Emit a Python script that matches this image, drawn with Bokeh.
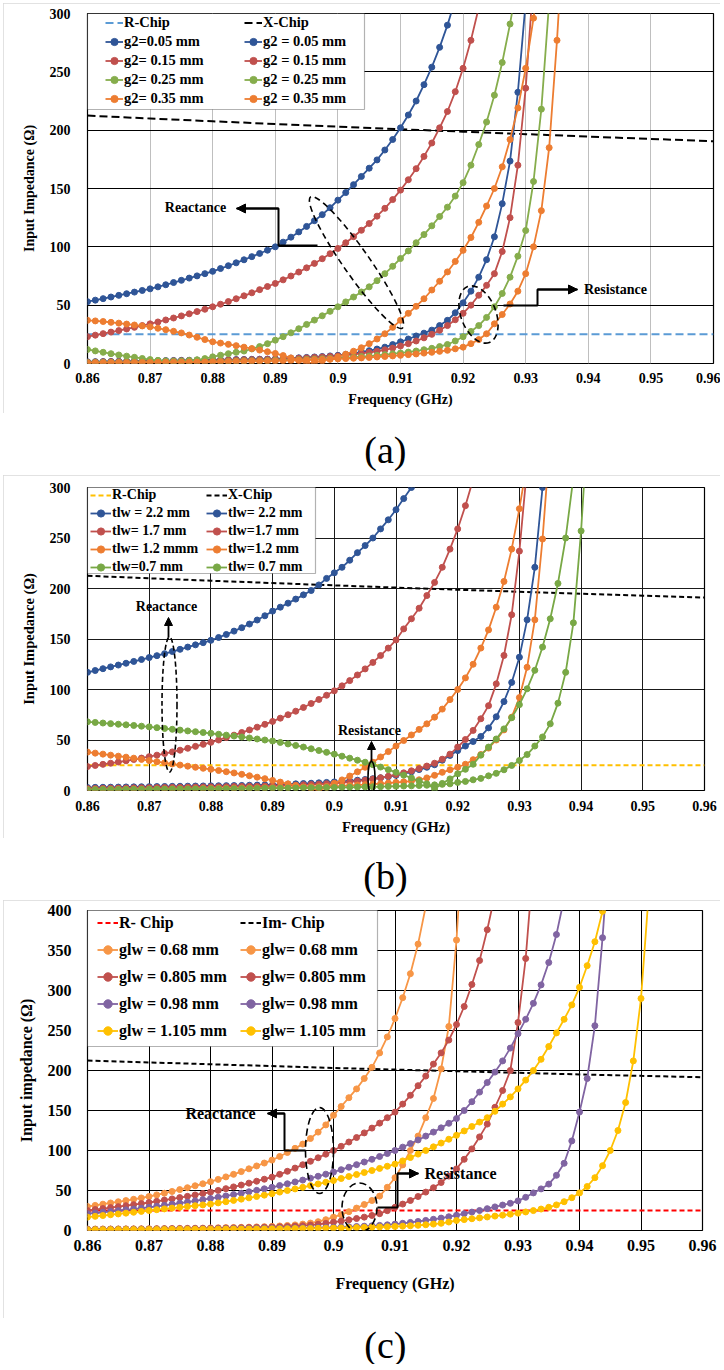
from bokeh.plotting import figure
from bokeh.layouts import column
from bokeh.models import (FixedTicker, SingleIntervalTicker, CustomJSTickFormatter, Legend,
                          LegendItem, BoxAnnotation, Label, Arrow, NormalHead, Range1d)
from bokeh.embed import file_html
from bokeh.resources import INLINE

FONT = "Liberation Serif"

# ---------------- data ----------------
STEP_GHZ = 0.00125
FREQ = [round(0.86 + STEP_GHZ * k, 5) for k in range(81)]
CHIP_F = [0.86, 0.87, 0.88, 0.89, 0.90, 0.91, 0.92, 0.93, 0.94, 0.95, 0.96]
X_TICKS = [0.86, 0.87, 0.88, 0.89, 0.90, 0.91, 0.92, 0.93, 0.94, 0.95, 0.96]

# ---- panel (a): g2 ----
A_R_CHIP = [25, 25, 25, 25, 25, 25, 25, 25, 25, 25, 25]
A_X_CHIP = [212.5, 210.0, 207.6, 205.3, 203.0, 200.8, 198.7, 196.6, 194.5, 192.5, 190.5]
A_R_LABELS = ["g2=0.05 mm", "g2= 0.15 mm", "g2= 0.25 mm", "g2= 0.35 mm"]
A_X_LABELS = ["g2 = 0.05 mm", "g2 = 0.15 mm", "g2 = 0.25 mm", "g2 = 0.35 mm"]
A_COLORS = ["#2F5597", "#C0504D", "#86AD4C", "#ED7D31"]
A_R_005 = [1.5, 1.6, 1.7, 1.8, 1.9, 2.0, 2.1, 2.2, 2.3,
           2.4, 2.5, 2.6, 2.7, 2.8, 2.9, 3.0, 3.1,
           3.2, 3.3, 3.4, 3.5, 3.6, 3.7, 3.8, 4.0,
           4.3, 4.6, 4.9, 5.2, 5.6, 6.0, 6.5, 7.0,
           7.8, 8.7, 9.8, 11, 12.4, 14, 16.2, 18.6,
           21, 23.6, 26, 28.6, 32.5, 37, 43.5, 52,
           62, 74, 89, 108.6, 137, 173.5, 232.5, 310]
A_X_005 = [53, 54.3, 55.6, 57, 58.4, 59.8, 61.2, 62.6, 64,
           65.7, 67.5, 69.4, 71.3, 73.2, 75.1, 77, 79,
           81.4, 83.8, 86.3, 88.9, 91.6, 94.3, 97.1, 100,
           104, 108.3, 112.8, 117.5, 122.4, 127.6, 133.5, 140,
           146.5, 153.3, 160.3, 167.4, 174.5, 183, 192, 202,
           213, 225, 239, 254, 271, 290, 312]
A_R_015 = [1.2, 1.3, 1.4, 1.5, 1.6, 1.7, 1.8, 1.9, 2.0,
           2.1, 2.2, 2.3, 2.4, 2.5, 2.6, 2.7, 2.8,
           2.9, 3.0, 3.1, 3.2, 3.3, 3.4, 3.5, 3.7,
           3.9, 4.2, 4.5, 4.8, 5.2, 5.6, 6.0, 6.5,
           7.1, 7.8, 8.6, 9.5, 10.5, 11.7, 13.2, 15,
           17, 19.3, 22, 25, 28.5, 32.5, 37.5, 43,
           50, 58.5, 67, 77, 96, 125, 170, 236, 330]
A_X_015 = [23, 24.3, 25.6, 26.9, 28.2, 29.6, 31, 32.5, 34,
           35.6, 37.3, 39, 40.8, 42.6, 44.5, 46.5, 48.6,
           50.8, 53.1, 55.5, 58, 60.6, 63.3, 66, 68.6,
           71.7, 75, 78.4, 82, 85.8, 89.8, 94.1, 98.6,
           103.5, 108.7, 114.2, 120, 126.3, 133, 140.5, 148.6,
           157.5, 167, 177.5, 189, 202, 216, 233, 253, 277, 305]
A_R_025 = [0.8, 0.85, 0.9, 0.95, 1.0, 1.05, 1.1, 1.15, 1.2,
           1.25, 1.3, 1.35, 1.4, 1.5, 1.6, 1.7, 1.8,
           1.9, 2.0, 2.1, 2.2, 2.3, 2.4, 2.5, 2.7,
           2.9, 3.1, 3.3, 3.5, 3.7, 4.0, 4.3, 4.6,
           5.0, 5.4, 5.9, 6.4, 7.0, 7.6, 8.3, 9.0,
           9.8, 10.7, 11.8, 13, 14.5, 16.3, 19.3, 23,
           27.5, 32.5, 39.5, 48.6, 60, 74, 92, 114, 156, 218, 310]
A_X_025 = [12, 10.8, 9.6, 8.4, 7.3, 6.3, 5.3, 4.3, 3.4,
           2.7, 2.2, 2.0, 2.1, 2.5, 3.2, 4.2, 5.7,
           7.1, 8.4, 9.6, 10.7, 12.5, 14.5, 17, 20,
           23, 26.3, 29.8, 33.5, 37.2, 40.9, 44.7, 48.6,
           52.8, 57, 61.3, 65.7, 71, 77, 83.3, 90,
           96.5, 103.5, 110.5, 118, 126, 134, 143.5, 155,
           170, 187.7, 207, 230, 258, 291, 330]
A_R_035 = [0.5, 0.55, 0.6, 0.65, 0.7, 0.75, 0.8, 0.85, 0.9,
           0.95, 1.0, 1.05, 1.1, 1.15, 1.2, 1.3, 1.4,
           1.5, 1.6, 1.7, 1.8, 1.9, 2.0, 2.1, 2.2,
           2.4, 2.6, 2.8, 3.0, 3.2, 3.4, 3.6, 3.9,
           4.2, 4.5, 4.8, 5.2, 5.6, 6.0, 6.5, 7.0,
           7.6, 8.2, 8.9, 9.6, 10.4, 11.3, 12.6, 14,
           17, 20.5, 25.5, 34, 42, 51, 62, 77, 100, 131, 185, 277, 390]
A_X_035 = [37, 36.5, 36, 35.3, 34.6, 33.8, 33, 32.2, 31.4,
           30.2, 29, 27.6, 26.2, 24.4, 22.5, 20.5, 18.6,
           17.5, 16.4, 15.3, 14, 12.8, 11.5, 10.1, 8.6,
           6.8, 4.8, 2.6, 0.6, 0.8, 2.2, 3.8, 5.7,
           8, 10.5, 13.5, 17, 21, 25.5, 31, 37,
           43, 49, 55.5, 63, 70.5, 78.5, 87.5, 97,
           108, 121, 135, 150, 168.6, 192, 219, 253, 296, 345]

# ---- panel (b): tlw ----
B_R_CHIP = [25, 25, 25, 25, 25, 25, 25, 25, 25, 25, 25]
B_X_CHIP = [212.6, 210.1, 207.7, 205.4, 203.1, 200.9, 198.8, 196.8, 194.8, 192.9, 191.0]
B_R_LABELS = ["tlw = 2.2 mm", "tlw= 1.7 mm", "tlw= 1.2 mmm", "tlw=0.7 mm"]
B_X_LABELS = ["tlw= 2.2 mm", "tlw=1.7 mm", "tlw=1.2 mm", "tlw= 0.7 mm"]
B_COLORS = ["#2F5597", "#C0504D", "#ED7D31", "#78A845"]
B_R_22 = [3, 3.1, 3.2, 3.3, 3.4, 3.5, 3.6, 3.7, 3.8,
          3.9, 4.0, 4.1, 4.2, 4.3, 4.4, 4.5, 4.6,
          4.7, 4.8, 4.9, 5.0, 5.2, 5.4, 5.6, 5.8,
          6.0, 6.3, 6.6, 6.9, 7.2, 7.6, 8.0, 8.5,
          9.0, 9.6, 10.2, 10.9, 11.7, 12.6, 13.7, 15,
          16.6, 18.5, 20.7, 23, 25.5, 30, 34.7, 39.5,
          44, 48.5, 53.5, 62, 73, 88, 107, 132, 169, 221, 300, 400]
B_X_22 = [117, 118.8, 120.6, 122.4, 124.2, 126, 127.8, 129.7, 131.6,
          133.5, 135.5, 137.6, 139.8, 142, 144.2, 146.4, 148.7,
          151.5, 154.5, 157.8, 161.2, 164.8, 168.8, 173, 177.6,
          181.5, 185.5, 189.5, 193.7, 198, 203.5, 210, 215.5,
          221, 228, 235.5, 242.5, 250, 259, 268, 278, 289, 300, 312]
B_R_17 = [2, 2.1, 2.2, 2.3, 2.4, 2.5, 2.6, 2.7, 2.8,
          2.9, 3.0, 3.1, 3.2, 3.3, 3.4, 3.5, 3.6,
          3.7, 3.8, 3.9, 4.0, 4.1, 4.2, 4.4, 4.6,
          4.8, 5.0, 5.3, 5.6, 5.9, 6.3, 6.7, 7.2,
          7.8, 8.5, 9.3, 10.2, 11.3, 12.6, 14.1, 15.8,
          17.5, 19.5, 21.8, 24.2, 27, 31, 36, 43,
          50.5, 59.5, 71, 84, 105.6, 133.7, 174, 237, 320]
B_X_17 = [23.7, 24.8, 25.9, 27, 28.2, 29.4, 30.7, 32.1, 33.5,
          35, 36.6, 38.2, 39.9, 41.8, 43.7, 45.7, 47.7,
          50, 52.4, 54.8, 57.4, 60, 62.7, 65.5, 68.4,
          71.6, 75, 78.5, 82.2, 86.1, 90.1, 94.3, 98.7,
          103.6, 108.8, 114.4, 120.4, 126.8, 133.6, 141, 149,
          160, 170, 180.5, 193, 206, 221, 239, 259, 282, 308]
B_R_12 = [1, 1.05, 1.1, 1.15, 1.2, 1.25, 1.3, 1.35, 1.4,
          1.45, 1.5, 1.55, 1.6, 1.7, 1.8, 1.9, 2.0,
          2.1, 2.2, 2.3, 2.4, 2.5, 2.6, 2.7, 2.8,
          2.9, 3.0, 3.2, 3.4, 3.6, 3.8, 4.0, 4.3,
          4.6, 5.0, 5.4, 5.8, 6.3, 6.8, 7.4, 8.0,
          8.6, 9.3, 10.6, 12.5, 15, 18, 20.5, 23,
          26, 30.5, 35.6, 42, 50, 60, 72.6, 92, 122, 169, 249, 350]
B_X_12 = [38, 37, 36, 35, 34, 33, 32, 30.8, 29.6,
          28.5, 27.4, 26.3, 25.2, 24.1, 23, 22, 21,
          19.8, 18.6, 17.4, 16, 14.6, 13.2, 11.7, 10,
          8.3, 6.6, 4.9, 3.3, 1.8, 0.4, 3, 7,
          10.5, 14.3, 18.5, 23, 28, 33.2, 38.5, 44,
          49.5, 55, 60.5, 66, 72.6, 80.6, 90, 100,
          111.5, 125, 141, 159, 181.5, 207, 239, 279, 325]
B_R_07 = [0.8, 0.85, 0.9, 0.95, 1.0, 1.05, 1.1, 1.15, 1.2,
          1.25, 1.3, 1.35, 1.4, 1.45, 1.5, 1.55, 1.6,
          1.65, 1.7, 1.75, 1.8, 1.9, 2.0, 2.1, 2.2,
          2.3, 2.4, 2.5, 2.6, 2.7, 2.8, 2.9, 3.0,
          3.1, 3.2, 3.35, 3.5, 3.65, 3.8, 4.0, 4.2,
          4.4, 4.6, 4.9, 5.2, 5.6, 6.1, 6.6, 8,
          9, 10.6, 12, 14.5, 17, 20.5, 24.8, 29.7, 35.6, 44, 53, 66, 86.5, 117, 166, 257, 380]
B_X_07 = [68, 67.4, 66.8, 66.2, 65.6, 65, 64.4, 63.7, 63,
          62.2, 61.4, 60.6, 59.8, 59, 58.2, 57.4, 56.6,
          55.7, 54.8, 53.9, 53, 52, 51, 50, 49,
          47.6, 46.1, 44.6, 43, 41.3, 39.6, 37.8, 36,
          34, 32, 30, 28, 25.6, 23.2, 20.6, 18,
          15.2, 12.4, 9.5, 6.6, 1.5, 7, 11.5, 16.5,
          21, 26, 35, 43, 51, 61, 72, 85, 100.7, 119, 142, 170, 205, 250, 310]

# ---- panel (c): glw ----
C_R_CHIP = [25, 25, 25, 25, 25, 25, 25, 25, 25, 25, 25]
C_X_CHIP = [212.5, 210.1, 207.8, 205.5, 203.2, 201.1, 199.1, 197.1, 195.1, 193.3, 191.6]
C_R_LABELS = ["glw = 0.68 mm", "glw = 0.805 mm", "glw = 0.98 mm", "glw = 1.105 mm"]
C_X_LABELS = ["glw= 0.68 mm", "glw= 0.805 mm", "glw= 0.98 mm", "glw= 1.105 mm"]
C_COLORS = ["#F79646", "#C0504D", "#8064A2", "#FFC000"]
C_R_068 = [1.8, 1.85, 1.9, 1.95, 2.0, 2.05, 2.1, 2.2, 2.3,
           2.4, 2.5, 2.6, 2.7, 2.8, 2.9, 3.0, 3.2,
           3.4, 3.6, 3.8, 4.0, 4.2, 4.5, 4.8, 5.2,
           5.7, 6.3, 7.0, 8.0, 9.3, 11, 13.5, 16.7,
           19.8, 23.5, 28, 32.5, 37.5, 43, 54, 66,
           82, 100, 118, 141, 165, 202, 255, 363, 520]
C_X_068 = [30, 31.4, 32.9, 34.4, 35.9, 37.4, 39, 40.7, 42.5,
           44.5, 46.6, 48.8, 51.1, 53.5, 55.9, 58.4, 61,
           63.9, 67, 70.2, 73.6, 77.1, 80.7, 84.3, 88,
           92.5, 97.5, 102.7, 108, 115, 123, 132, 144,
           155, 166, 177, 190, 204, 222, 242, 265,
           291, 321, 358, 405]
C_R_0805 = [1.5, 1.55, 1.6, 1.65, 1.7, 1.75, 1.8, 1.85, 1.9,
            2.0, 2.1, 2.2, 2.3, 2.4, 2.5, 2.6, 2.7,
            2.85, 3.0, 3.2, 3.4, 3.6, 3.8, 4.0, 4.3,
            4.6, 5.0, 5.5, 6.0, 6.8, 7.7, 8.9, 10.4,
            11.8, 13.3, 15, 16.7, 18.8, 21, 24.8, 29,
            33, 37.5, 42.5, 48, 53.5, 60, 68, 77,
            89, 102, 117, 133, 154, 175, 200, 260, 340, 460]
C_X_0805 = [25, 26.2, 27.4, 28.6, 29.8, 31, 32.3, 33.6, 35,
            36.5, 38, 39.5, 41.1, 42.7, 44.4, 46.2, 48,
            50.1, 52.3, 54.5, 56.8, 59.2, 61.6, 64.1, 66.7,
            70.2, 74, 78, 82.2, 86.5, 90.9, 95.4, 100,
            105.2, 110.6, 116.2, 122, 128, 134.2, 141, 148,
            158, 169, 181, 193, 208, 222, 238, 257.5, 280, 307.5, 337.5, 376, 420]
C_R_098 = [1.3, 1.35, 1.4, 1.45, 1.5, 1.55, 1.6, 1.65, 1.7,
           1.75, 1.8, 1.85, 1.9, 1.95, 2.0, 2.05, 2.1,
           2.2, 2.3, 2.4, 2.5, 2.6, 2.7, 2.8, 2.9,
           3.0, 3.1, 3.2, 3.35, 3.5, 3.65, 3.8, 4.0,
           4.3, 4.6, 5.0, 5.4, 5.9, 6.4, 7.1, 8.0,
           9.0, 10.1, 11.3, 12.6, 14, 15.5, 17.2, 19,
           21, 23, 25, 27.3, 29.5, 31.8, 34, 37, 41.5, 47, 52, 58, 69, 84, 112, 148,
           190, 256, 366, 500]
C_X_098 = [21, 21.9, 22.8, 23.8, 24.8, 25.8, 26.8, 27.9, 29,
           30.2, 31.5, 32.8, 34.2, 35.6, 37, 38.5, 40,
           41.6, 43.2, 44.9, 46.6, 48.4, 50.2, 52.1, 54,
           56.2, 58.4, 60.7, 63, 65.4, 67.8, 70.4, 73,
           76, 79.1, 82.3, 85.6, 89, 92.5, 96.2, 100,
           104.2, 108.6, 113.2, 118, 123, 128.3, 134, 140,
           150, 161, 173, 185, 198, 212, 228, 246, 264, 284, 307, 335, 370, 415]
C_R_1105 = [1.0, 1.03, 1.06, 1.1, 1.13, 1.16, 1.2, 1.23, 1.26,
            1.3, 1.35, 1.4, 1.45, 1.5, 1.55, 1.6, 1.65,
            1.7, 1.75, 1.8, 1.85, 1.9, 1.95, 2.0, 2.1,
            2.2, 2.3, 2.4, 2.5, 2.6, 2.7, 2.85, 3.0,
            3.2, 3.4, 3.6, 3.85, 4.1, 4.4, 4.7, 5.0,
            5.4, 5.9, 6.5, 7.2, 8.0, 9.0, 10.6, 12.5,
            13.6, 14.7, 15.8, 16.9, 18, 19.2, 20.4, 21.7, 23.2, 24.9, 26.8, 29, 32, 36, 41,
            47, 55, 66, 81, 100, 125, 160, 212, 290, 420]
C_X_1105 = [16.7, 17.7, 18.7, 19.7, 20.7, 21.7, 22.8, 23.9, 25,
            26, 27, 28, 29, 30, 31, 32, 33,
            34.5, 36, 37.6, 39.2, 40.8, 42.5, 44.2, 46,
            48, 50, 52, 54, 56.1, 58.2, 60.3, 62.5,
            65, 67.5, 70, 72.5, 75, 77.6, 80.3, 83,
            87, 91.2, 95.5, 100, 104.6, 109.3, 114.1, 119,
            124.5, 130, 135.5, 141, 149, 158, 167, 177, 188, 200, 214, 230, 247, 264, 282,
            304, 331, 361, 399, 445]

PANELS = [
    dict(r_chip=A_R_CHIP, x_chip=A_X_CHIP, r_chip_color="#5B9BD5",
         r_chip_label="R-Chip", x_chip_label="X-Chip",
         r_series=[A_R_005, A_R_015, A_R_025, A_R_035],
         x_series=[A_X_005, A_X_015, A_X_025, A_X_035],
         r_labels=A_R_LABELS, x_labels=A_X_LABELS, colors=A_COLORS,
         ymax=300, ylabel="Input Impedance (\u03a9)",
         fw=626, fh=350, bl=73, br=18, bt=10, bb=50,
         tick_size="14px", lab_size="14px", leg_size="14.5px", ann_size="14px",
         xgrid="#BFBFBF", ygrid="#000000", dash_chip="8 4",
         y_standoff=13, x_standoff=9, ylab_standoff=10, xlab_standoff=6,
         leg=dict(ox=18, oy=0, row=19, gw=18, lw=120, bw=277, bh=96, btop=0)),
    dict(r_chip=B_R_CHIP, x_chip=B_X_CHIP, r_chip_color="#FFC000",
         r_chip_label="R-Chip", x_chip_label="X-Chip",
         r_series=[B_R_22, B_R_17, B_R_12, B_R_07],
         x_series=[B_X_22, B_X_17, B_X_12, B_X_07],
         r_labels=B_R_LABELS, x_labels=B_X_LABELS, colors=B_COLORS,
         ymax=300, ylabel="Input Impedance (\u03a9)",
         fw=617, fh=303, bl=70, br=30, bt=12, bb=48,
         tick_size="14px", lab_size="14.5px", leg_size="14px", ann_size="14px",
         xgrid="#1A1A1A", ygrid="#1A1A1A", dash_chip="5 3",
         y_standoff=13, x_standoff=10, ylab_standoff=10, xlab_standoff=5,
         leg=dict(ox=3, oy=-1, row=18, gw=21, lw=94, bw=228, bh=87, btop=-1)),
    dict(r_chip=C_R_CHIP, x_chip=C_X_CHIP, r_chip_color="#FF0000",
         r_chip_label="R- Chip", x_chip_label="Im- Chip",
         r_series=[C_R_068, C_R_0805, C_R_098, C_R_1105],
         x_series=[C_X_068, C_X_0805, C_X_098, C_X_1105],
         r_labels=C_R_LABELS, x_labels=C_X_LABELS, colors=C_COLORS,
         ymax=400, ylabel="Input impedance (\u03a9)",
         fw=615, fh=320, bl=84, br=18, bt=10, bb=88,
         tick_size="16px", lab_size="16px", leg_size="16px", ann_size="16px",
         xgrid="#000000", ygrid="#000000", dash_chip="5 3",
         y_standoff=12, x_standoff=9, ylab_standoff=10, xlab_standoff=21,
         leg=dict(ox=10, oy=-1, row=27, gw=21, lw=121, bw=290, bh=137, btop=-1)),
]

# annotation layout (pixel offsets relative to each plot frame's top-left)
ANNOT = [
    dict(texts=[("Reactance", 108, 194), ("Resistance", 528, 276)],
         paths=[[(230, 232), (191, 232), (191, 195), (149, 195)],
                [(416, 292), (450, 292), (450, 276), (490, 276)]],
         arrows=[],
         ellipses=[(269, 249, 160, 26, -0.96, "6 4"), (391, 301, 60, 35, -1.2, "6 4")]),
    dict(texts=[("Reactance", 79, 119), ("Resistance", 282, 243)],
         paths=[],
         arrows=[(81, 150, 81, 130), (284, 274, 284, 254)],
         ellipses=[(82, 217, 15, 135, 0.0, "5 3"), (284, 290, 7, 32, 0.0, None)]),
    dict(texts=[("Reactance", 133, 203), ("Resistance", 373, 263)],
         paths=[[(218, 240), (197, 240), (197, 203), (180, 203)],
                [(290, 297), (310, 297), (310, 263), (331, 263)]],
         arrows=[],
         ellipses=[(232, 240, 28, 86, 0.0, "7 4"), (272, 297, 35, 49, 0.0, "7 4")]),
]


def make_panel(cfg, ann):
    fw, fh, ymax = cfg["fw"], cfg["fh"], cfg["ymax"]

    def dx(px):
        return 0.86 + px / fw * 0.1

    def dy(py):
        return ymax - py / fh * ymax

    p = figure(frame_width=fw, frame_height=fh,
               min_border_left=cfg["bl"], min_border_right=cfg["br"],
               min_border_top=cfg["bt"], min_border_bottom=cfg["bb"],
               x_range=Range1d(0.86, 0.96), y_range=Range1d(0, ymax),
               output_backend="svg", toolbar_location=None,
               background_fill_color="white", border_fill_color="white")
    p.styles = {"outline": "2px solid #D9D9D9", "outline-offset": "-2px"}
    p.outline_line_color = "black"
    p.outline_line_width = 1.2

    p.xaxis.ticker = FixedTicker(ticks=X_TICKS)
    p.xaxis.formatter = CustomJSTickFormatter(code="return tick.toFixed(2).replace(/0$/, '');")
    p.yaxis.ticker = SingleIntervalTicker(interval=50)
    p.xaxis.axis_label = "Frequency (GHz)"
    p.yaxis.axis_label = cfg["ylabel"]
    for ax in (p.xaxis[0], p.yaxis[0]):
        ax.axis_line_color = None
        ax.major_tick_line_color = None
        ax.minor_tick_line_color = None
        ax.major_tick_out = 0
        ax.major_tick_in = 0
        ax.major_label_text_font = FONT
        ax.major_label_text_font_style = "bold"
        ax.major_label_text_font_size = cfg["tick_size"]
        ax.major_label_text_color = "black"
        ax.axis_label_text_font = FONT
        ax.axis_label_text_font_style = "bold"
        ax.axis_label_text_font_size = cfg["lab_size"]
        ax.axis_label_text_color = "black"
    p.yaxis.major_label_standoff = cfg["y_standoff"]
    p.xaxis.major_label_standoff = cfg["x_standoff"]
    p.yaxis.axis_label_standoff = cfg["ylab_standoff"]
    p.xaxis.axis_label_standoff = cfg["xlab_standoff"]

    p.xgrid.grid_line_color = cfg["xgrid"]
    p.ygrid.grid_line_color = cfg["ygrid"]
    p.xgrid.grid_line_width = 1
    p.ygrid.grid_line_width = 1

    # chip reference lines
    r_chip = p.line(CHIP_F, cfg["r_chip"], line_color=cfg["r_chip_color"], line_width=2,
                    line_dash=cfg["dash_chip"])
    x_chip = p.line(CHIP_F, cfg["x_chip"], line_color="black", line_width=2,
                    line_dash=cfg["dash_chip"])

    r_items, x_items = [], []
    for rs, xs, rl, xl, col in zip(cfg["r_series"], cfg["x_series"], cfg["r_labels"],
                                   cfg["x_labels"], cfg["colors"]):
        lr = p.line(FREQ[:len(rs)], rs, line_color=col, line_width=1.8)
        sr = p.scatter(FREQ[:len(rs)], rs, size=6, marker="circle", fill_color=col,
                       line_color=col)
        lx = p.line(FREQ[:len(xs)], xs, line_color=col, line_width=1.8)
        sx = p.scatter(FREQ[:len(xs)], xs, size=6, marker="circle", fill_color=col,
                       line_color=col)
        r_items.append(LegendItem(label=rl, renderers=[lr, sr]))
        x_items.append(LegendItem(label=xl, renderers=[lx, sx]))

    # annotations
    for (txt, tx, ty) in ann["texts"]:
        p.add_layout(Label(x=dx(tx), y=dy(ty), text=txt, text_align="center",
                           text_baseline="middle", text_font=FONT, text_font_style="bold",
                           text_font_size=cfg["ann_size"], text_color="black"))
    for path in ann["paths"]:
        p.line([dx(a) for a, b in path], [dy(b) for a, b in path], line_color="black",
               line_width=2)
        (x0, y0), (x1, y1) = path[-2], path[-1]
        p.add_layout(Arrow(end=NormalHead(size=9, fill_color="black", line_color="black"),
                           x_start=dx(x0), y_start=dy(y0), x_end=dx(x1), y_end=dy(y1),
                           line_width=2, line_color="black"))
    for (x0, y0, x1, y1) in ann["arrows"]:
        p.add_layout(Arrow(end=NormalHead(size=8, fill_color="black", line_color="black"),
                           x_start=dx(x0), y_start=dy(y0), x_end=dx(x1), y_end=dy(y1),
                           line_width=1.8, line_color="black"))
    for (ex, ey, ew, eh, ang, dash) in ann["ellipses"]:
        kw = dict(line_dash=dash) if dash else {}
        p.ellipse(x=[dx(ex)], y=[dy(ey)], width=ew, height=eh, width_units="screen",
                  height_units="screen", angle=ang, fill_color=None, line_color="black",
                  line_width=1.6, **kw)

    # legend box + legend
    lg = cfg["leg"]
    p.add_layout(BoxAnnotation(left=dx(0), right=dx(lg["bw"]), top=dy(lg["btop"]),
                               bottom=dy(lg["btop"] + lg["bh"]), fill_color="white",
                               fill_alpha=1.0, line_color="black", line_width=1.2))
    items = ([LegendItem(label=cfg["r_chip_label"], renderers=[r_chip])] + r_items +
             [LegendItem(label=cfg["x_chip_label"], renderers=[x_chip])] + x_items)
    legend = Legend(items=items, ncols=2, orientation="vertical",
                    location=(lg["ox"], fh - lg["oy"] - 5 * lg["row"]),
                    padding=0, spacing=0, margin=0,
                    label_height=lg["row"], glyph_height=lg["row"], glyph_width=lg["gw"],
                    label_standoff=1, label_width=lg["lw"],
                    border_line_color=None, background_fill_alpha=0,
                    label_text_font=FONT, label_text_font_style="bold",
                    label_text_font_size=cfg["leg_size"], label_text_color="black")
    p.add_layout(legend)
    return p


def caption(text, h, cy, size):
    c = figure(width=717, height=h, x_range=Range1d(0, 1), y_range=Range1d(0, 1),
               output_backend="svg", toolbar_location=None, min_border=0,
               x_axis_location=None, y_axis_location=None, outline_line_color=None)
    c.grid.visible = False
    c.add_layout(Label(x=0.494, y=1 - cy / h, text=text, text_align="center",
                       text_baseline="middle", text_font=FONT, text_font_size=size,
                       text_color="black"))
    return c


pa = make_panel(PANELS[0], ANNOT[0])
pb = make_panel(PANELS[1], ANNOT[1])
pc = make_panel(PANELS[2], ANNOT[2])
ca = caption("(a)", 62, 36, "38px")
cb = caption("(b)", 62, 37, "38px")
cc = caption("(c)", 46, 26, "38px")

layout = column(pa, ca, pb, cb, pc, cc, spacing=0, margin=(3, 0, 0, 3))

with open("out.html", "w") as f:
    f.write(file_html(layout, INLINE, title="Input impedance"))
